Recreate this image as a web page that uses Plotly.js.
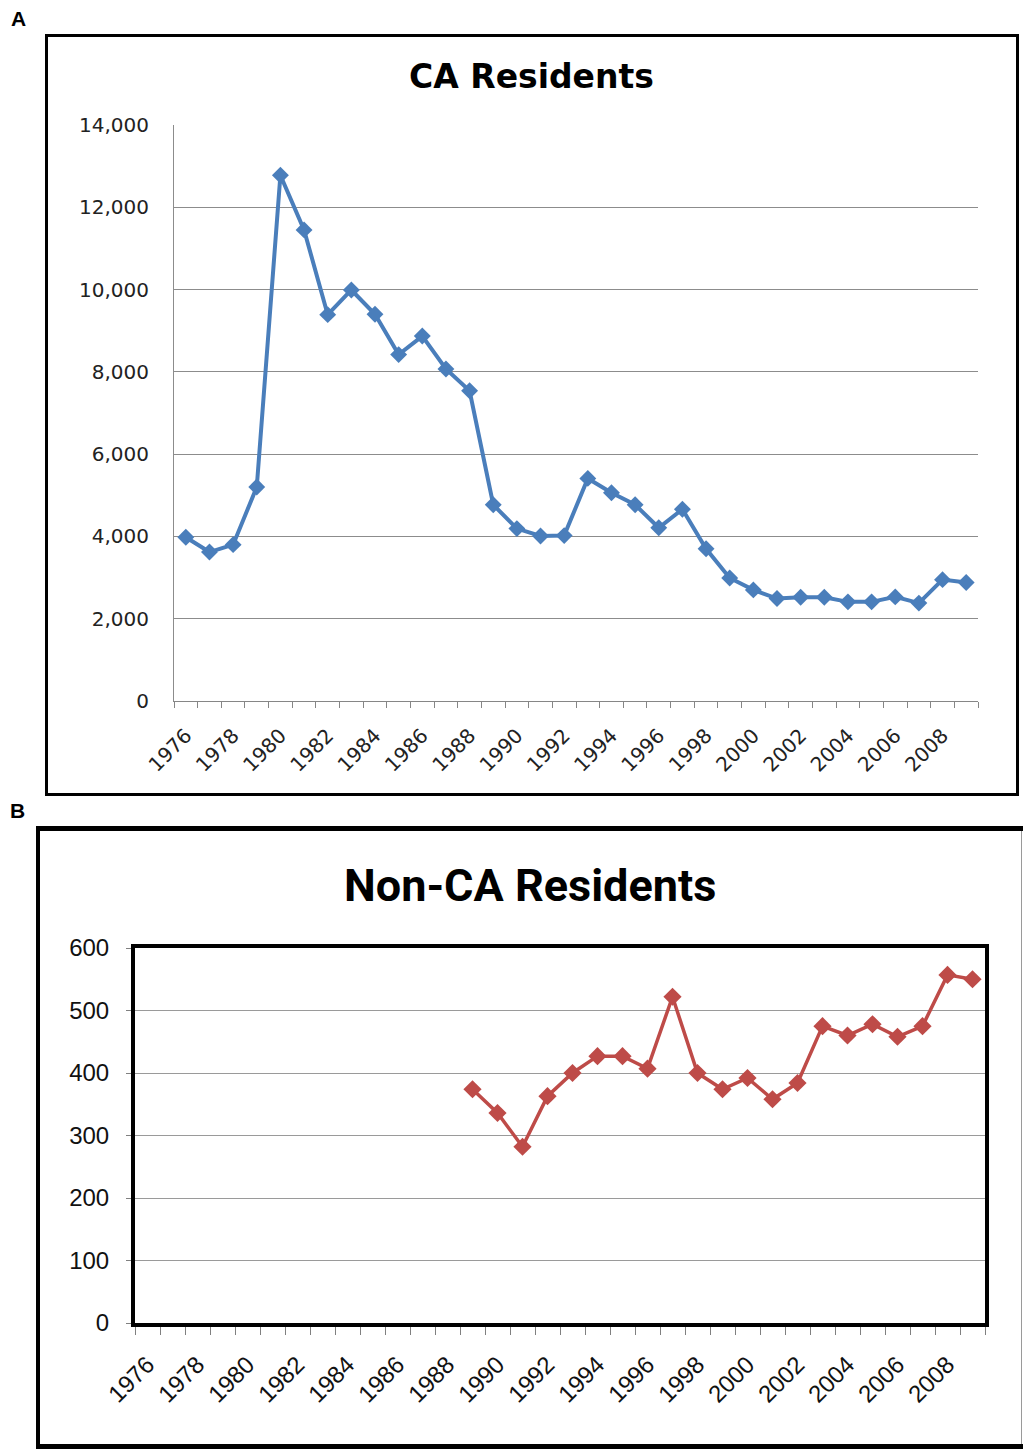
<!DOCTYPE html>
<html>
<head>
<meta charset="utf-8">
<script src="https://cdn.plot.ly/plotly-3.0.1.min.js"></script>
<style>
  html, body { margin: 0; padding: 0; background: #ffffff; }
  #chart { width: 1023px; height: 1453px; }
</style>
</head>
<body>
<div id="chart"></div>
<script>
// ---- Data ----
const years = ['1976','1977','1978','1979','1980','1981','1982','1983','1984','1985',
               '1986','1987','1988','1989','1990','1991','1992','1993','1994','1995',
               '1996','1997','1998','1999','2000','2001','2002','2003','2004','2005',
               '2006','2007','2008','2009'];
const xTickText = ['1976','','1978','','1980','','1982','','1984','','1986','','1988','',
                   '1990','','1992','','1994','','1996','','1998','','2000','','2002','',
                   '2004','','2006','','2008',''];
const caResidents = [3980, 3620, 3800, 5200, 12780, 11450, 9390, 9990, 9400, 8420,
                     8870, 8070, 7540, 4770, 4190, 4010, 4020, 5410, 5060, 4770,
                     4210, 4660, 3700, 2990, 2700, 2490, 2520, 2520, 2410, 2410,
                     2530, 2380, 2950, 2880];
const nonCaResidents = [null, null, null, null, null, null, null, null, null, null,
                        null, null, null, 374, 336, 282, 363, 400, 427, 427,
                        407, 522, 400, 374, 392, 358, 384, 475, 460, 478,
                        458, 475, 557, 550];
const titleA = 'CA Residents';
const titleB = 'Non-CA Residents';

// ---- helpers for page-pixel placement ----
const W = 1023, H = 1453;
const px = x => x / W;
const py = y => 1 - y / H;

const blue = '#4A7EBB';
const red = '#BE4B48';
const nCat = years.length;

const traces = [
  {
    x: years, y: caResidents, xaxis: 'x', yaxis: 'y',
    type: 'scatter', mode: 'lines+markers',
    line: { color: blue, width: 4 },
    marker: { symbol: 'diamond', size: 13, color: blue },
    hoverinfo: 'x+y'
  },
  {
    x: years, y: nonCaResidents, xaxis: 'x2', yaxis: 'y2',
    type: 'scatter', mode: 'lines+markers',
    line: { color: red, width: 3.5 },
    marker: { symbol: 'diamond', size: 14, color: red },
    connectgaps: false,
    hoverinfo: 'x+y'
  }
];

const topFont = { family: 'DejaVu Sans, Verdana, sans-serif', size: 20, color: '#222222' };
const botFont = { family: 'Liberation Sans, Arial, sans-serif', size: 24, color: '#111111' };

const layout = {
  width: W, height: H,
  margin: { l: 0, r: 0, t: 0, b: 0, pad: 0 },
  paper_bgcolor: '#ffffff',
  plot_bgcolor: 'rgba(0,0,0,0)',
  showlegend: false,
  xaxis: {
    domain: [px(174), px(978)], anchor: 'y',
    type: 'category', categoryorder: 'array', categoryarray: years,
    range: [-0.5, nCat - 0.5], autorange: false,
    tickmode: 'array', tickvals: years, ticktext: xTickText,
    tickson: 'boundaries', ticks: 'outside', ticklen: 6, tickwidth: 1, tickcolor: '#868686',
    showline: true, linecolor: '#868686', linewidth: 1,
    showgrid: false, zeroline: false,
    tickangle: -45, tickfont: topFont, ticklabelstandoff: 14
  },
  yaxis: {
    domain: [py(701), py(125)], anchor: 'x',
    range: [0, 14000], tickmode: 'linear', tick0: 0, dtick: 2000, tickformat: ',d',
    showgrid: true, gridcolor: '#8c8c8c', gridwidth: 1,
    showline: true, linecolor: '#8c8c8c', linewidth: 1,
    zeroline: false, ticks: '', tickfont: topFont, ticklabelstandoff: 20
  },
  xaxis2: {
    domain: [px(135), px(985)], anchor: 'y2',
    type: 'category', categoryorder: 'array', categoryarray: years,
    range: [-0.5, nCat - 0.5], autorange: false,
    tickmode: 'array', tickvals: years, ticktext: xTickText,
    tickson: 'boundaries', ticks: 'outside', ticklen: 8, tickwidth: 1, tickcolor: '#808080',
    showline: true, linecolor: '#000000', linewidth: 4, mirror: true,
    showgrid: false, zeroline: false,
    tickangle: -45, tickfont: botFont, ticklabelstandoff: 14
  },
  yaxis2: {
    domain: [py(1323), py(948)], anchor: 'x2',
    range: [0, 600], tickmode: 'linear', tick0: 0, dtick: 100,
    showgrid: true, gridcolor: '#9a9a9a', gridwidth: 1,
    showline: true, linecolor: '#000000', linewidth: 4, mirror: true,
    zeroline: false, ticks: 'outside', ticklen: 5, tickcolor: '#808080',
    tickfont: botFont, ticklabelstandoff: 12
  },
  shapes: [
    // outer frame A
    { type: 'rect', xref: 'paper', yref: 'paper',
      x0: px(46.5), x1: px(1017.5), y0: py(794.5), y1: py(35.5),
      line: { color: '#000000', width: 3 }, fillcolor: 'rgba(0,0,0,0)' },
    // outer frame B
    { type: 'line', xref: 'paper', yref: 'paper', x0: px(36), x1: px(1023), y0: py(828.5), y1: py(828.5),
      line: { color: '#000000', width: 5 } },
    { type: 'line', xref: 'paper', yref: 'paper', x0: px(38), x1: px(38), y0: py(826), y1: py(1449),
      line: { color: '#000000', width: 4 } },
    { type: 'line', xref: 'paper', yref: 'paper', x0: px(36), x1: px(1023), y0: py(1446.5), y1: py(1446.5),
      line: { color: '#000000', width: 5 } },
    { type: 'line', xref: 'paper', yref: 'paper', x0: px(1021.5), x1: px(1021.5), y0: py(831), y1: py(1444),
      line: { color: '#9a9a9a', width: 1 } }
  ],
  annotations: [
    { text: '<b>A</b>', xref: 'paper', yref: 'paper', x: px(9), y: py(5),
      xanchor: 'left', yanchor: 'top', showarrow: false,
      font: { family: 'Liberation Sans, Arial, sans-serif', size: 21, color: '#000' } },
    { text: '<b>B</b>', xref: 'paper', yref: 'paper', x: px(8), y: py(797),
      xanchor: 'left', yanchor: 'top', showarrow: false,
      font: { family: 'Liberation Sans, Arial, sans-serif', size: 21, color: '#000' } },
    { text: '<b>' + titleA + '</b>', xref: 'paper', yref: 'paper', x: px(531), y: py(77),
      xanchor: 'center', yanchor: 'middle', showarrow: false,
      font: { family: 'DejaVu Sans, Verdana, sans-serif', size: 33, color: '#000' } },
    { text: '<b>' + titleB + '</b>', xref: 'paper', yref: 'paper', x: px(530), y: py(885),
      xanchor: 'center', yanchor: 'middle', showarrow: false,
      font: { family: 'Roboto, Liberation Sans, sans-serif', size: 45, color: '#000' } }
  ]
};

Plotly.newPlot('chart', traces, layout, { staticPlot: true, displayModeBar: false });
</script>
</body>
</html>
